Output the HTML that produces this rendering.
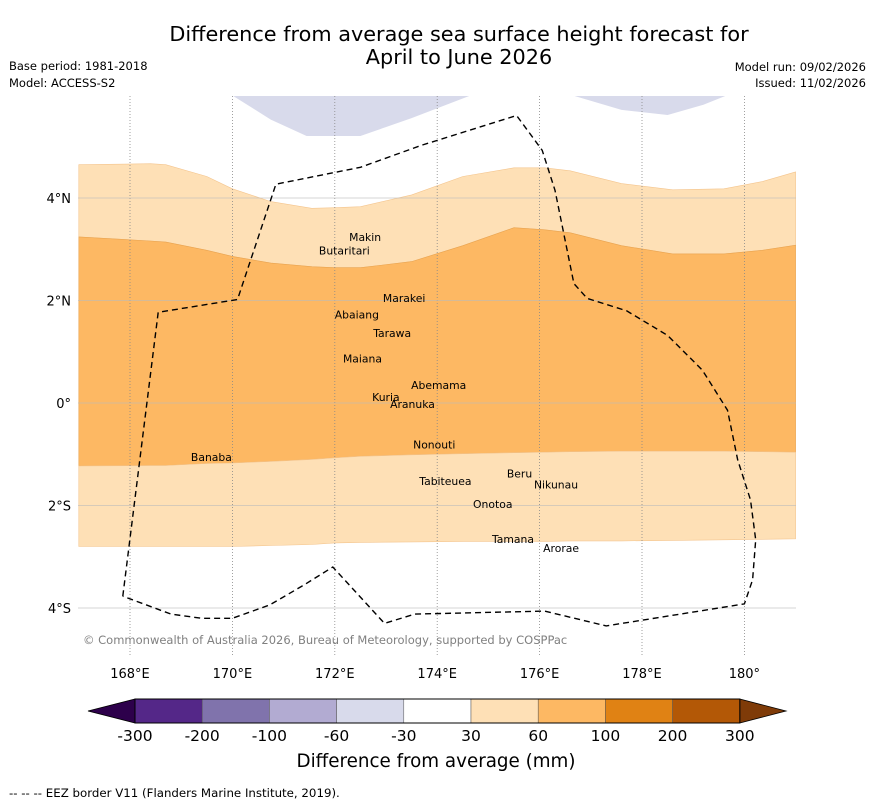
<!DOCTYPE html>
<html><head><meta charset="utf-8"><style>
body{margin:0;background:#fff;}
svg{display:block;font-family:"DejaVu Sans","Liberation Sans",sans-serif;}
</style></head><body>
<svg id="chart" width="873" height="804" viewBox="0 0 873 804" xmlns="http://www.w3.org/2000/svg">
<text x="459" y="41" font-size="20.8" text-anchor="middle">Difference from average sea surface height forecast for</text>
<text x="459" y="64" font-size="20.8" text-anchor="middle">April to June 2026</text>
<text x="9" y="70" font-size="11.5">Base period: 1981-2018</text>
<text x="9" y="87" font-size="11.5">Model: ACCESS-S2</text>
<text x="866" y="71" font-size="11.5" text-anchor="end">Model run: 09/02/2026</text>
<text x="866" y="87" font-size="11.5" text-anchor="end">Issued: 11/02/2026</text>
<defs><clipPath id="mapclip"><rect x="78" y="96" width="718" height="560"/></clipPath></defs>
<g id="map" clip-path="url(#mapclip)"></g>
<g id="axes"></g>
<g id="cbar"></g>
<text x="83" y="644" font-size="11.5" fill="#808080">© Commonwealth of Australia 2026, Bureau of Meteorology, supported by COSPPac</text>
<text x="436" y="767" font-size="18.3" text-anchor="middle">Difference from average (mm)</text>
<text x="9" y="797" font-size="11.8">--  --  -- EEZ border V11 (Flanders Marine Institute, 2019).</text>
</svg>
<script>
const lonTicks=[168,170,172,174,176,178,180];
const lonTickLabels=["168°E","170°E","172°E","174°E","176°E","178°E","180°"];
const latTicks=[4,2,0,-2,-4];
const latTickLabels=["4°N","2°N","0°","2°S","4°S"];
const bLon=[167,168.4,168.7,169.5,170,170.75,171.55,172,172.5,173.5,174.5,175.5,176.1,176.6,177.6,178.6,179.6,180.35,181];
const bTopLight=[4.65,4.67,4.65,4.42,4.18,3.93,3.80,3.81,3.83,4.06,4.42,4.59,4.59,4.53,4.28,4.16,4.18,4.32,4.51];
const bTopOrange=[3.24,3.16,3.14,2.98,2.86,2.73,2.66,2.64,2.64,2.76,3.07,3.42,3.38,3.32,3.07,2.91,2.91,2.98,3.08];
const bBotOrange=[-1.23,-1.22,-1.22,-1.18,-1.17,-1.14,-1.10,-1.07,-1.04,-1.01,-0.99,-0.97,-0.96,-0.95,-0.94,-0.94,-0.94,-0.95,-0.96];
const bBotLight=[-2.80,-2.80,-2.80,-2.80,-2.80,-2.78,-2.76,-2.73,-2.72,-2.71,-2.70,-2.70,-2.70,-2.69,-2.69,-2.68,-2.67,-2.66,-2.65];
const blue1Lon=[170,170.75,171.45,172.5,173.5,174.65];
const blue1Lat=[6.0,5.53,5.21,5.21,5.56,6.0];
const blue2Lon=[176.65,177.6,178.5,179.2,179.65];
const blue2Lat=[6.0,5.72,5.62,5.82,6.0];
const eezLon=[167.86,168.55,170.1,170.85,172.5,173.7,175.55,176.05,176.3,176.67,176.93,177.7,178.5,179.18,179.67,179.87,180.12,180.22,180.16,180.0,177.3,176.1,173.56,172.97,171.96,171.4,170.73,170,169.4,168.8,167.86];
const eezLat=[-3.77,1.77,2.02,4.27,4.6,5.03,5.61,4.93,4.15,2.33,2.04,1.8,1.32,0.64,-0.14,-1.11,-1.89,-2.67,-3.45,-3.92,-4.35,-4.06,-4.12,-4.3,-3.2,-3.55,-3.94,-4.2,-4.2,-4.12,-3.77];
const islandNames=["Makin","Butaritari","Marakei","Abaiang","Tarawa","Maiana","Abemama","Kuria","Aranuka","Nonouti","Banaba","Beru","Nikunau","Tabiteuea","Onotoa","Tamana","Arorae"];
const islandLon=[172.28,171.69,172.94,172.0,172.75,172.16,173.49,172.73,173.08,173.53,169.19,175.36,175.89,173.65,174.7,175.07,176.07];
const islandLat=[3.24,2.98,2.05,1.73,1.37,0.87,0.35,0.12,-0.02,-0.81,-1.05,-1.38,-1.59,-1.52,-1.97,-2.65,-2.83];

const NS="http://www.w3.org/2000/svg";
const X=lon=>130+(lon-168)*51.2;
const Y=lat=>403-lat*51.25;
function mk(tag,attrs,parent){const e=document.createElementNS(NS,tag);for(const k in attrs)e.setAttribute(k,attrs[k]);parent.appendChild(e);return e;}
const map=document.getElementById('map'),axes=document.getElementById('axes'),cb=document.getElementById('cbar');
function pts(lons,lats){return lons.map((l,i)=>X(l).toFixed(1)+','+Y(lats[i]).toFixed(1));}
function band(top,bot){const a=pts(bLon,top),b=pts(bLon,bot).reverse();return 'M'+a.join('L')+'L'+b.join('L')+'Z';}
let p;
p=mk('path',{d:band(bTopLight,bTopOrange),fill:'#fee0b6',stroke:'#f4c58e','stroke-width':0.6},map);


p=mk('path',{d:band(bTopOrange,bBotOrange),fill:'#fdb863',stroke:'#e9a450','stroke-width':0.6},map);


p=mk('path',{d:band(bBotOrange,bBotLight),fill:'#fee0b6',stroke:'#f4c58e','stroke-width':0.6},map);


p=mk('path',{d:'M'+pts(blue1Lon,blue1Lat).join('L')+'Z',fill:'#d8daeb'},map);


p=mk('path',{d:'M'+pts(blue2Lon,blue2Lat).join('L')+'Z',fill:'#d8daeb'},map);


lonTicks.forEach((l,i)=>{
 const g=mk('line',{x1:X(l),x2:X(l),y1:96,y2:656,stroke:'#888','stroke-width':0.8,'stroke-dasharray':'1,2'},map);
 
 
 const t=mk('text',{x:X(l),y:678,'font-size':13,'text-anchor':'middle'},axes);t.textContent=lonTickLabels[i];
 
 
});
latTicks.forEach((l,i)=>{
 const g=mk('line',{x1:78,x2:796,y1:Y(l),y2:Y(l),stroke:'#bbb','stroke-width':0.8,opacity:0.8},map);
 
 
 const t=mk('text',{x:71,y:Y(l)+5,'font-size':13,'text-anchor':'end'},axes);t.textContent=latTickLabels[i];
 
 
});
p=mk('path',{d:'M'+pts(eezLon,eezLat).join('L'),fill:'none',stroke:'#000','stroke-width':1.4,'stroke-dasharray':'6,4'},map);


islandNames.forEach((n,i)=>{
 const t=mk('text',{x:X(islandLon[i]),y:Y(islandLat[i])+4,'font-size':10.8,'text-anchor':'start'},map);t.textContent=n;
 
 
});
const cbColors=['#542788','#8073ac','#b2abd2','#d8daeb','#ffffff','#fee0b6','#fdb863','#e08214','#b35806'];
const cbLabels=['-300','-200','-100','-60','-30','30','60','100','200','300'];
const cx0=135,cw=67.2,cy=699,ch=24;
p=mk('path',{d:`M88,${cy+ch/2}L${cx0},${cy}L${cx0},${cy+ch}Z`,fill:'#2d004b',stroke:'#000','stroke-width':0.8},cb);


const xr=cx0+cw*9;
p=mk('path',{d:`M${xr},${cy}L786,${cy+ch/2}L${xr},${cy+ch}Z`,fill:'#7f3b08',stroke:'#000','stroke-width':0.8},cb);


cbColors.forEach((c,i)=>{
 const r=mk('rect',{x:cx0+i*cw,y:cy,width:cw,height:ch,fill:c,stroke:'#555','stroke-width':0.5},cb);
 
 
});
mk('rect',{x:cx0,y:cy,width:cw*9,height:ch,fill:'none',stroke:'#000','stroke-width':1},cb);
cbLabels.forEach((l,i)=>{
 const t=mk('text',{x:cx0+i*cw,y:741,'font-size':15.5,'text-anchor':'middle'},cb);t.textContent=l;
 
 
});
</script>
</body></html>
